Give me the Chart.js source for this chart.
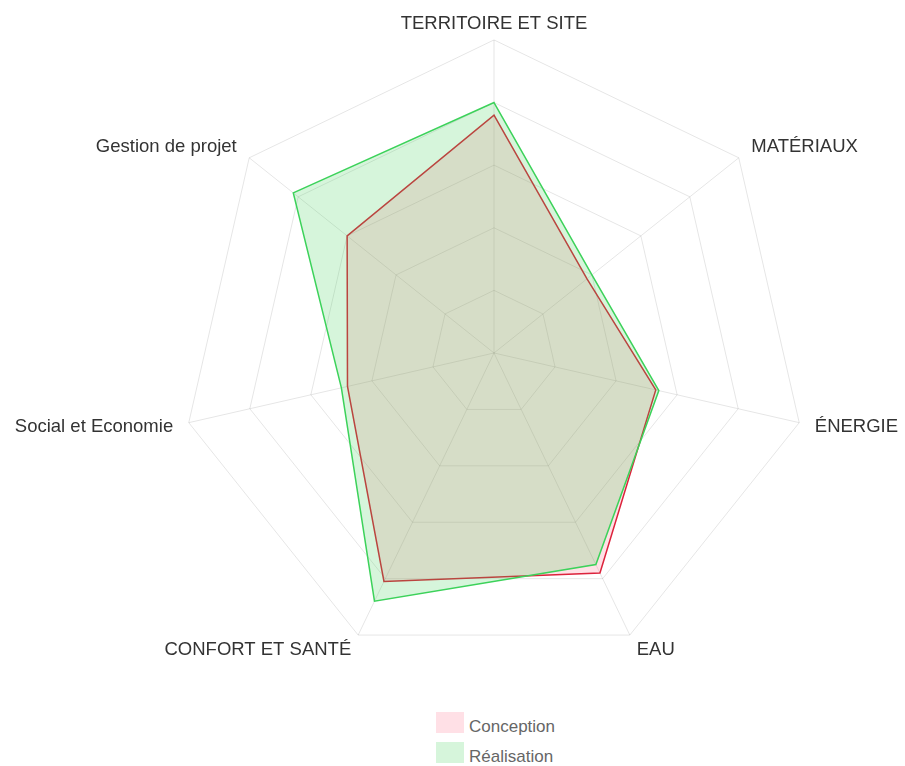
<!DOCTYPE html>
<html lang="fr">
<head>
    <meta charset="UTF-8">
    <title>Radar</title>
    <script src="https://cdn.jsdelivr.net/npm/chart.js"></script>
    <style>
        body { margin: 0; background: #fff; font-family: Arial, sans-serif; overflow: hidden; }
        #wrap { position: relative; width: 905px; height: 766px; overflow: hidden; }
        #chartBox { position: absolute; left: 0; top: 15px; width: 988px; height: 660px; }
        #legend { position: absolute; left: 436px; top: 712px; }
        .item { display: flex; align-items: center; height: 21px; margin-bottom: 9px; }
        .box { width: 28px; height: 21px; margin-right: 5px; }
        .txt { font-size: 17px; color: #666; position: relative; top: 4px; }
    </style>
</head>
<body>
    <div id="wrap">
        <div id="chartBox"><canvas id="radar"></canvas></div>
        <div id="legend"></div>
    </div>

    <script>
        const labels = ['TERRITOIRE ET SITE', 'MATÉRIAUX', 'ÉNERGIE', 'EAU', 'CONFORT ET SANTÉ', 'Social et Economie', 'Gestion de projet'];
        const conception = [76, 38, 53, 78, 81, 48, 60];
        const realisation = [80, 40, 54, 75, 88, 50, 82];

        const chart = new Chart(document.getElementById('radar'), {
            type: 'radar',
            data: {
                labels: labels,
                datasets: [{
                    label: 'Conception',
                    data: conception,
                    backgroundColor: 'rgba(255, 99, 132, 0.2)',
                    borderColor: 'rgb(220, 35, 60)',
                    borderWidth: 1.5,
                    pointRadius: 0,
                    order: 1
                }, {
                    label: 'Réalisation',
                    data: realisation,
                    backgroundColor: 'rgba(50, 204, 75, 0.2)',
                    borderColor: 'rgb(60, 210, 90)',
                    borderWidth: 1.5,
                    pointRadius: 0,
                    order: 0   // drawn over Conception
                }]
            },
            options: {
                responsive: true,
                maintainAspectRatio: false,
                animation: false,
                plugins: {
                    legend: { display: false },
                    tooltip: { enabled: false }
                },
                scales: {
                    r: {
                        min: 0,
                        max: 100,
                        ticks: { display: false, stepSize: 20 },
                        grid: { color: 'rgba(0,0,0,0.1)' },
                        angleLines: { color: 'rgba(0,0,0,0.1)' },
                        pointLabels: {
                            color: '#333',
                            padding: 16,
                            // tiny line height keeps each label centred on its anchor point
                            font: { size: 18.5, family: 'Arial, sans-serif', lineHeight: 0.05 }
                        }
                    }
                }
            }
        });

        // simple stacked legend, built from the datasets
        let legendBox = document.getElementById('legend');
        chart.data.datasets.forEach(ds => {
            legendBox.innerHTML += `<div class="item"><div class="box" style="background:${ds.backgroundColor}"></div><span class="txt">${ds.label}</span></div>`;
        });
    </script>
</body>
</html>
